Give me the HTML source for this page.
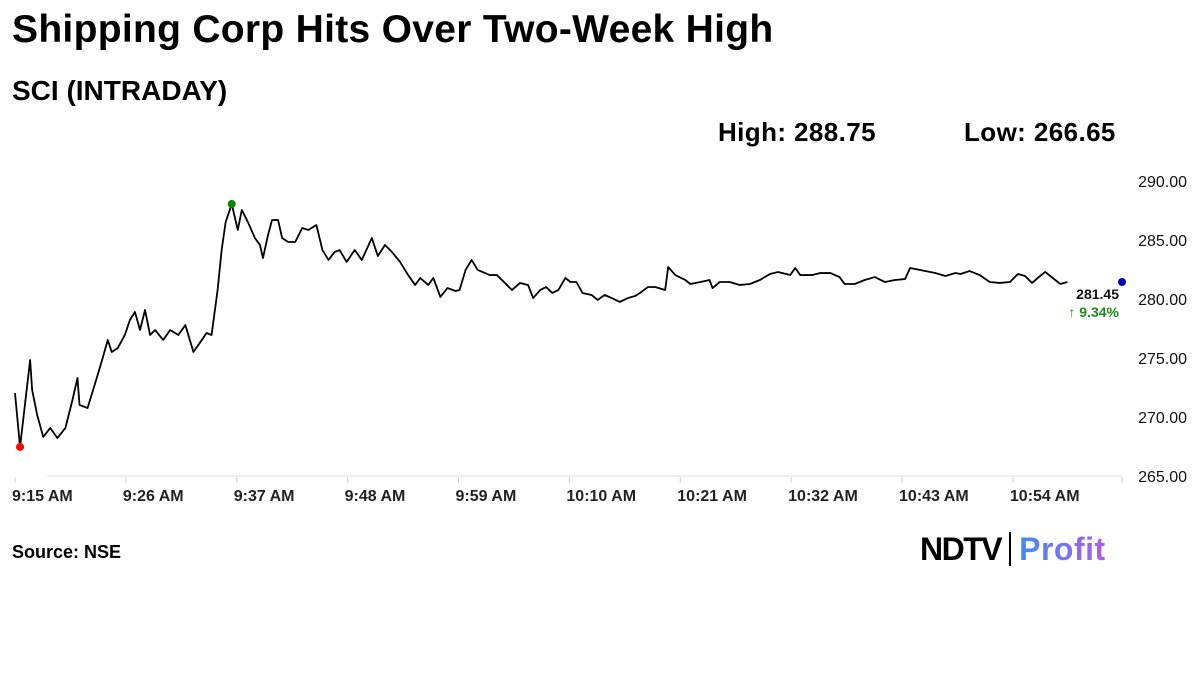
<!DOCTYPE html>
<html><head><meta charset="utf-8"><style>
body{margin:0;width:1200px;height:674px;background:#fff;font-family:"Liberation Sans",sans-serif;overflow:hidden;position:relative}
.t{position:absolute;white-space:nowrap;color:#000}
</style></head><body>
<div class="t" style="left:12px;top:8px;font-size:39px;font-weight:bold;letter-spacing:0.3px">Shipping Corp Hits Over Two-Week High</div>
<div class="t" style="left:12px;top:75px;font-size:28px;font-weight:bold">SCI (INTRADAY)</div>
<div class="t" style="left:718px;top:117px;font-size:26px;font-weight:bold;letter-spacing:0.4px">High: 288.75</div>
<div class="t" style="left:964px;top:117px;font-size:26px;font-weight:bold;letter-spacing:0.4px">Low: 266.65</div>
<div class="t" style="left:12px;top:542px;font-size:18px;font-weight:bold">Source: NSE</div>
<div class="t" style="left:920px;top:531px;font-size:32px;font-weight:bold"><span style="letter-spacing:-1.5px">NDTV</span><span style="display:inline-block;width:2px;height:34px;background:#000;margin:0 8px;vertical-align:-6px"></span><span style="color:#8a5cf0;letter-spacing:0.5px;background:linear-gradient(90deg,#3f8cf2,#b05ce8);-webkit-background-clip:text;background-clip:text;-webkit-text-fill-color:transparent">Profit</span></div>
<svg id="chart" width="1200" height="674" style="position:absolute;left:0;top:0"></svg>
<script>
const minutes=[0,0.5,1.5,1.7,2.2,2.8,3.5,4.2,5.0,5.7,6.2,6.4,7.2,7.9,8.7,9.2,9.6,10.2,10.9,11.4,11.9,12.4,12.9,13.4,13.9,14.7,15.4,16.2,16.9,17.7,18.4,19.0,19.5,20.1,20.5,20.9,21.3,21.5,22.1,22.5,23.1,23.8,24.3,24.6,25.1,25.5,26.1,26.5,27.1,27.8,28.5,29.1,29.9,30.5,31.1,31.7,32.2,32.9,33.7,34.4,35.4,36.0,36.7,37.4,38.2,39.0,39.7,40.2,41.0,41.5,42.2,42.9,43.7,44.1,44.7,45.3,45.9,47.1,47.8,48.6,49.3,50.1,50.9,51.4,52.1,52.7,53.3,53.9,54.6,55.1,55.7,56.3,57.2,57.8,58.5,59.2,60.0,60.8,61.5,62.0,62.8,63.5,64.5,64.8,65.5,66.5,67.0,68.0,68.9,69.2,69.9,70.9,71.9,72.9,73.9,74.9,75.7,76.9,77.4,77.9,79.1,79.9,80.9,81.8,82.3,83.3,84.3,85.3,86.3,87.3,88.3,88.8,89.8,91.3,92.3,93.3,93.8,94.7,95.7,96.7,97.7,98.7,99.5,100.2,100.9,101.7,102.2,103.2,103.7,104.4];
const prices=[272.03,267.46,274.83,272.29,270.17,268.31,269.07,268.22,269.07,271.44,273.31,271.02,270.76,272.71,275.0,276.53,275.51,275.85,276.95,278.22,278.9,277.37,279.07,276.95,277.37,276.53,277.37,276.95,277.8,275.51,276.36,277.12,276.95,280.76,284.15,286.53,287.54,288.05,285.85,287.54,286.53,285.17,284.58,283.47,285.42,286.69,286.69,285.17,284.83,284.83,286.02,285.85,286.27,284.15,283.31,283.98,284.15,283.14,284.15,283.31,285.17,283.64,284.58,283.98,283.14,282.03,281.19,281.78,281.19,281.78,280.17,280.93,280.68,280.76,282.46,283.31,282.46,282.03,282.03,281.36,280.76,281.36,281.19,280.08,280.76,281.02,280.51,280.76,281.78,281.44,281.44,280.51,280.34,279.92,280.34,280.08,279.75,280.08,280.25,280.51,281.02,281.02,280.76,282.71,282.03,281.61,281.27,281.44,281.61,280.93,281.44,281.44,281.19,281.27,281.61,282.12,282.29,282.03,282.63,282.03,282.03,282.2,282.2,281.86,281.27,281.27,281.61,281.86,281.44,281.61,281.69,282.63,282.46,282.2,281.95,282.2,282.12,282.37,282.03,281.44,281.36,281.44,282.12,281.95,281.36,281.95,282.29,281.61,281.27,281.44];
const yTicks=[290,285,280,275,270,265];
const xTickLabels=["9:15 AM","9:26 AM","9:37 AM","9:48 AM","9:59 AM","10:10 AM","10:21 AM","10:32 AM","10:43 AM","10:54 AM"];
const xTickMinutes=[0,11,22,33,44,55,66,77,88,99];
const lastPrice="281.45", changePct="9.34%";
const NS="http://www.w3.org/2000/svg", svg=document.getElementById('chart');
const xS=m=>15+m*10.08, yS=v=>181+(290-v)*11.8;
function mk(t,a,p){const e=document.createElementNS(NS,t);for(const k in a)e.setAttribute(k,a[k]);(p||svg).appendChild(e);return e;}
let ax=mk('line',{x1:47,x2:1122,y1:476,y2:476,stroke:'#ddd','stroke-width':1});


yTicks.forEach(v=>{const t=mk('text',{x:1187,y:yS(v)+6,'text-anchor':'end','font-size':16,fill:'#111'});t.textContent=v.toFixed(2);

});
xTickMinutes.forEach((m,i)=>{const x=xS(m);const tk=mk('line',{x1:x,x2:x,y1:477,y2:483,stroke:'#ccc'});


const t=mk('text',{x:x-3,y:501,'font-size':16,'font-weight':'bold',fill:'#222'});t.textContent=xTickLabels[i];

});
const rt=mk('line',{x1:1122,x2:1122,y1:477,y2:483,stroke:'#ccc'});


const pl=mk('polyline',{points:minutes.map((m,i)=>xS(m)+','+yS(prices[i])).join(' '),fill:'none',stroke:'#000','stroke-width':1.8,'stroke-linejoin':'round'});


let lo=0,hi=0;prices.forEach((p,i)=>{if(p<prices[lo])lo=i;if(p>prices[hi])hi=i;});
const ld=mk('circle',{cx:xS(minutes[lo]),cy:yS(prices[lo]),r:4,fill:'#f00'});


const hd=mk('circle',{cx:xS(minutes[hi]),cy:yS(prices[hi]),r:4,fill:'#080'});


const bd=mk('circle',{cx:1122,cy:282,r:4,fill:'#00a'});


const lp=mk('text',{x:1119,y:299,'text-anchor':'end','font-size':14,'font-weight':'bold',fill:'#111'});lp.textContent=lastPrice;


const cp=mk('text',{x:1119,y:317,'text-anchor':'end','font-size':14,'font-weight':'bold',fill:'#1a8a1a'});cp.textContent='\u2191 '+changePct;


</script>
</body></html>
